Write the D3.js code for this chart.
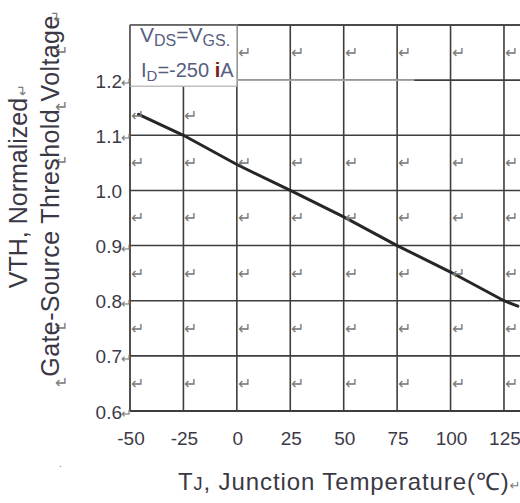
<!DOCTYPE html>
<html><head><meta charset="utf-8">
<script src="https://cdn.jsdelivr.net/npm/d3@7"></script>
<style>
body{margin:0;background:#fff}
svg{display:block}
text{font-family:"Liberation Sans",Arial,sans-serif}
</style>
</head><body>
<svg id="c" width="520" height="503"></svg>
<script>
// ---- data ----
const tempTicks = [-50, -25, 0, 25, 50, 75, 100, 125];
const tempTickLabels = ["-50", "-25", "0", "25", "50", "75", "100", "125"];
const gridTemps = [-25, 0, 25, 50, 75, 100, 125, 150];
const vthTicks = [0.6, 0.7, 0.8, 0.9, 1.0, 1.1, 1.2];
const vthTickLabels = ["0.6", "0.7", "0.8", "0.9", "1.0", "1.1", "1.2"];
const vthMarked = [true, true, true, true, false, true, true];
const curveTemp = [-46, -25, 0, 25, 50, 75, 100, 125, 131.5];
const curveVth = [1.138, 1.10, 1.047, 1.0, 0.952, 0.90, 0.852, 0.80, 0.79];
const yTitle1 = "VTH, Normalized";
const yTitle2 = "Gate-Source Threshold Voltage";
const xTitle = ", Junction Temperature(℃)";

// ---- setup ----
const svg = d3.select("#c");
const x = d3.scaleLinear().domain([-50, 150]).range([130, 557.4]);
const y = d3.scaleLinear().domain([0.6, 1.3]).range([411, 25]);
const gridColor = "#3e3e3e";
const mark = "\u21B5";
const markCol = "#7a7a7a";

// grid
const g = svg.append("g");
g.selectAll("line.h").data([0.7, 0.8, 0.9, 1.0, 1.1, 1.2]).join("line")
  .attr("x1", x(-50)).attr("x2", x(150)).attr("y1", d => y(d)).attr("y2", d => y(d))
  .attr("stroke", gridColor).attr("stroke-width", 1.6);
g.selectAll("line.v").data(gridTemps).join("line")
  .attr("x1", d => x(d)).attr("x2", d => x(d)).attr("y1", y(1.3)).attr("y2", y(0.6))
  .attr("stroke", gridColor).attr("stroke-width", 1.6);
// frame
g.append("line").attr("x1", x(-50)).attr("x2", x(-50)).attr("y1", y(1.3)).attr("y2", y(0.6))
  .attr("stroke", gridColor).attr("stroke-width", 1.8);
g.append("line").attr("x1", x(-50)).attr("x2", x(150)).attr("y1", y(1.3)).attr("y2", y(1.3))
  .attr("stroke", "#4a4a4a").attr("stroke-width", 1.8);
g.append("line").attr("x1", x(-50)).attr("x2", x(150)).attr("y1", y(0.6)).attr("y2", y(0.6))
  .attr("stroke", gridColor).attr("stroke-width", 1.8);

// light segment along 1.2 right of legend box
g.append("line").attr("x1", x(0)).attr("x2", x(83)).attr("y1", y(1.2)).attr("y2", y(1.2))
  .attr("stroke", "#a8a8a8").attr("stroke-width", 1.6);

// legend box
svg.append("rect").attr("x", x(-50)).attr("y", y(1.3))
  .attr("width", x(0) - x(-50)).attr("height", y(1.189) - y(1.3))
  .attr("fill", "#fff").attr("stroke", "#b0b0b0").attr("stroke-width", 1.2);
svg.append("line").attr("x1", x(-50)).attr("x2", x(0)).attr("y1", y(1.3)).attr("y2", y(1.3))
  .attr("stroke", "#5a5a5a").attr("stroke-width", 1.6);
svg.append("line").attr("x1", x(-50)).attr("x2", x(-50)).attr("y1", y(1.3)).attr("y2", y(1.189))
  .attr("stroke", "#5a5a5a").attr("stroke-width", 1.6);

const legCol = "#56607e";
const l1 = svg.append("text").attr("x", x(-50) + 10).attr("y", 42).attr("font-size", 21).attr("fill", legCol);
l1.append("tspan").text("V");
l1.append("tspan").attr("font-size", 16).attr("dy", 4).text("DS");
l1.append("tspan").attr("dy", -4).text("=V");
l1.append("tspan").attr("font-size", 16).attr("dy", 4).text("GS.");
const l2 = svg.append("text").attr("x", x(-50) + 11).attr("y", 77).attr("font-size", 20).attr("fill", legCol);
l2.append("tspan").text("I");
l2.append("tspan").attr("font-size", 15).attr("dy", 4).text("D");
l2.append("tspan").attr("dy", -4).text("=-250 ");
l2.append("tspan").attr("fill", "#7a1a1a").attr("font-weight", "bold").text("i");
l2.append("tspan").text("A");

// data curve
const pts = curveTemp.map((t, i) => [t, curveVth[i]]);
svg.append("path").datum(pts)
  .attr("d", d3.line().x(d => x(d[0])).y(d => y(d[1])))
  .attr("fill", "none").attr("stroke", "#262626").attr("stroke-width", 3).attr("stroke-linecap", "round");

// paragraph marks in cells
const markG = svg.append("g").attr("font-family", "DejaVu Sans").attr("font-size", 16).attr("fill", markCol);
const rowsTop = [1.3, 1.2, 1.1, 1.0, 0.9, 0.8, 0.7];
const colStarts = [-50, -25, 0, 25, 50, 75, 100, 125];
rowsTop.forEach((r, ri) => {
  colStarts.forEach((c, ci) => {
    if (ri === 0 && ci < 2) return;
    if (ri === 1 && ci >= 2) return;
    const yy = ri === 1 ? y(r) + 41 : y(r) + 33;
    markG.append("text").attr("x", x(c) + 1).attr("y", yy).text(mark);
  });
});
// left column marks
[1.3, 1.2, 1.1, 0.8, 0.7].forEach(r => {
  markG.append("text").attr("x", 55).attr("y", y(r) + 32).text(mark);
});

// y tick labels
const labCol = "#3d3a48";
svg.selectAll("text.yt").data(vthTicks).join("text")
  .attr("x", 122).attr("y", d => y(d) + 7.5).attr("text-anchor", "end")
  .attr("font-size", 19).attr("fill", labCol)
  .text((d, i) => vthTickLabels[i]);
svg.selectAll("text.ym").data(vthTicks.filter((d, i) => vthMarked[i])).join("text")
  .attr("x", 121).attr("y", d => y(d) + 7).attr("font-family", "DejaVu Sans")
  .attr("font-size", 13).attr("fill", markCol).text(mark);

// x tick labels
svg.selectAll("text.xt").data(tempTicks).join("text")
  .attr("x", d => x(d) + 1).attr("y", 445).attr("text-anchor", "middle")
  .attr("font-size", 19).attr("fill", labCol)
  .text((d, i) => tempTickLabels[i]);

// x title
const xt = svg.append("text").attr("x", 178).attr("y", 490).attr("font-size", 24)
  .attr("letter-spacing", 0.9).attr("fill", "#3a3844");
xt.append("tspan").text("T");
xt.append("tspan").attr("font-size", 18).text("J");
xt.append("tspan").text(xTitle);
xt.append("tspan").attr("font-family", "DejaVu Sans").attr("font-size", 13).attr("fill", markCol).text(mark);

// y title
svg.append("text").attr("transform", "translate(27,193) rotate(-90)").attr("text-anchor", "middle")
  .attr("font-size", 25).attr("fill", "#3a3844").text(yTitle1);
svg.append("text").attr("transform", "translate(59,196) rotate(-90)").attr("text-anchor", "middle")
  .attr("font-size", 25).attr("letter-spacing", 0.4).attr("fill", "#3a3844").text(yTitle2);
svg.append("text").attr("transform", "translate(27,96) rotate(-90)")
  .attr("font-family", "DejaVu Sans").attr("font-size", 14).attr("fill", markCol).text(mark);
svg.append("text").attr("transform", "translate(61,22) rotate(-90)")
  .attr("font-family", "DejaVu Sans").attr("font-size", 14).attr("fill", markCol).text(mark);
// stray dot
svg.append("text").attr("x", 59).attr("y", 467).attr("font-size", 10).attr("fill", markCol).text(".");
</script>
</body></html>
